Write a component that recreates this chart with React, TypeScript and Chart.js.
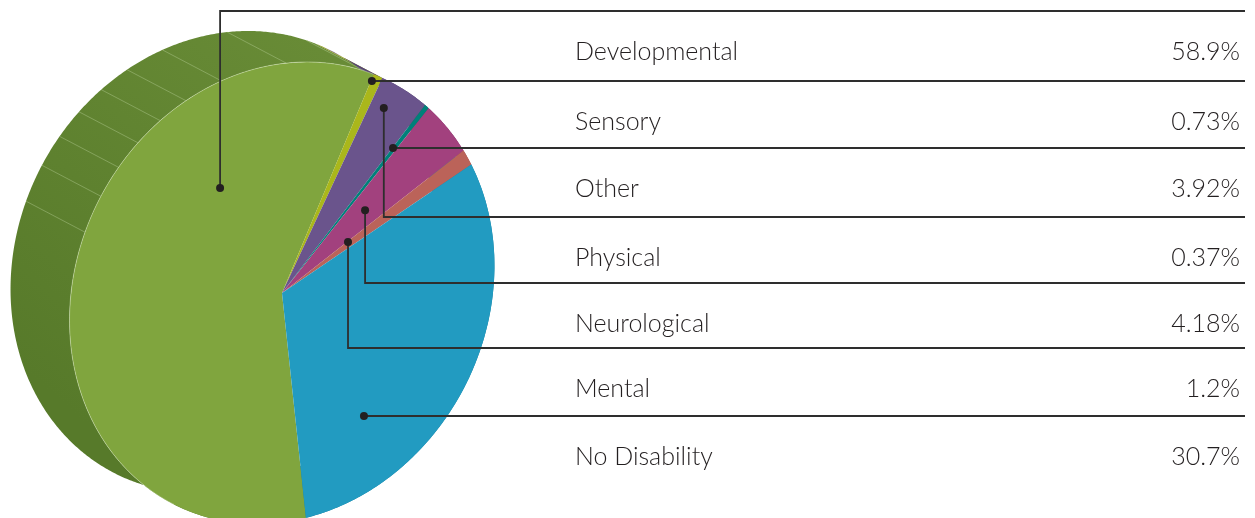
import React, { useEffect, useRef } from "react";
import { Chart, registerables } from "chart.js";

Chart.register(...registerables);

// ---- data ----
const categories = [
  "Developmental",
  "Sensory",
  "Other",
  "Physical",
  "Neurological",
  "Mental",
  "No Disability",
];
const shares = [58.9, 0.73, 3.92, 0.37, 4.18, 1.2, 30.7];
const valueLabels = ["58.9%", "0.73%", "3.92%", "0.37%", "4.18%", "1.2%", "30.7%"];

// ---- styles ----
const faceColors = ["#80a53e", "#aab71b", "#6a548c", "#00807a", "#a2417e", "#bb6359", "#229bc1"];
const sideColors = ["#5f842f", "#8e9a16", "#574574", "#006a65", "#86356a", "#9c524a", "#1c81a1"];

// leader anchors: position along the slice angle, fraction of the radius, legend row it joins
const leaderAngleFrac = [0.735, 0.1, 0.31, 0.17, 0.5, 0.1, 0.755];
const leaderRadiusFrac = [0.572, 0.971, 0.89, 0.773, 0.502, 0.362, 0.698];
const leaderRow = [0, 1, 3, 2, 4, 5, 6];

// legend layout
const rowLineY = [11, 81, 148, 217, 283, 348, 416];
const LABEL_X = 575;
const VALUE_RIGHT = 1240;
const LINE_END = 1245;
const TEXT_DROP = 49;

// 3D tilt of the disc
const TILT_DIR = [0.889, 0.459];
const TILT_K = 0.865;
const DEPTH = [-59, -31];
const stripeAngles = [-71.5, -62, -53.8, -46.2, -38.5, -30.4, -20.1, -2.4, 19.4];

const M = (() => {
  const [vx, vy] = TILT_DIR;
  const s = TILT_K - 1;
  return [1 + s * vx * vx, s * vx * vy, s * vx * vy, 1 + s * vy * vy];
})();

function applyTilt(ctx: CanvasRenderingContext2D, cx: number, cy: number) {
  ctx.translate(cx, cy);
  ctx.transform(M[0], M[1], M[2], M[3], 0, 0);
  ctx.translate(-cx, -cy);
}

function project(cx: number, cy: number, r: number, a: number): [number, number] {
  const dx = r * Math.cos(a);
  const dy = r * Math.sin(a);
  return [cx + M[0] * dx + M[2] * dy, cy + M[1] * dx + M[3] * dy];
}

function arcGeom(arc: any) {
  return arc.getProps(["x", "y", "outerRadius", "startAngle", "endAngle"], true);
}

const pie3dPlugin = {
  id: "pie3d",
  beforeDatasetsDraw(chart: any) {
    const ctx: CanvasRenderingContext2D = chart.ctx;
    const meta = chart.getDatasetMeta(0);
    if (!meta.data.length) return;
    const g0 = arcGeom(meta.data[0]);
    const cx = g0.x, cy = g0.y, R = g0.outerRadius;

    // side walls
    meta.data.forEach((arc: any, i: number) => {
      const g = arcGeom(arc);
      const span = g.endAngle - g.startAngle;
      const n = Math.max(2, Math.ceil(span / (Math.PI / 360)));
      ctx.beginPath();
      for (let k = 0; k <= n; k++) {
        const p = project(cx, cy, R, g.startAngle + (span * k) / n);
        if (k === 0) ctx.moveTo(p[0], p[1]);
        else ctx.lineTo(p[0], p[1]);
      }
      for (let k = n; k >= 0; k--) {
        const p = project(cx, cy, R, g.startAngle + (span * k) / n);
        ctx.lineTo(p[0] + DEPTH[0], p[1] + DEPTH[1]);
      }
      ctx.closePath();
      if (i === 0) {
        const grad = ctx.createLinearGradient(cx + R * 0.2, cy - R, cx - R, cy + R * 0.4);
        grad.addColorStop(0, "#688b36");
        grad.addColorStop(1, "#577a2a");
        ctx.fillStyle = grad;
      } else {
        ctx.fillStyle = sideColors[i];
      }
      ctx.fill();
    });

    // faint facet stripes on the side
    ctx.save();
    ctx.strokeStyle = "rgba(200,222,170,0.45)";
    ctx.lineWidth = 0.8;
    stripeAngles.forEach((deg) => {
      const a = ((deg - 90) * Math.PI) / 180;
      const p = project(cx, cy, R, a);
      ctx.beginPath();
      ctx.moveTo(p[0], p[1]);
      ctx.lineTo(p[0] + DEPTH[0], p[1] + DEPTH[1]);
      ctx.stroke();
    });
    ctx.restore();

    ctx.save();
    applyTilt(ctx, cx, cy);
  },
  afterDatasetsDraw(chart: any) {
    const ctx: CanvasRenderingContext2D = chart.ctx;
    ctx.restore();
    const meta = chart.getDatasetMeta(0);
    if (!meta.data.length) return;
    const g0 = arcGeom(meta.data[0]);
    const cx = g0.x, cy = g0.y, R = g0.outerRadius;

    // light edge where the face meets the side wall
    ctx.save();
    ctx.strokeStyle = "rgba(215,232,190,0.55)";
    ctx.lineWidth = 0.8;
    ctx.beginPath();
    const a0 = ((207 - 90) * Math.PI) / 180;
    const a1 = g0.endAngle;
    const n = 200;
    for (let k = 0; k <= n; k++) {
      const p = project(cx, cy, R, a0 + ((a1 - a0) * k) / n);
      if (k === 0) ctx.moveTo(p[0], p[1]);
      else ctx.lineTo(p[0], p[1]);
    }
    ctx.stroke();
    ctx.restore();

    // legend rows, leader lines and dots
    ctx.save();
    ctx.strokeStyle = "#2e2e2e";
    ctx.lineWidth = 1.8;
    meta.data.forEach((arc: any, i: number) => {
      const g = arcGeom(arc);
      const a = g.startAngle + (g.endAngle - g.startAngle) * leaderAngleFrac[i];
      const [px, py] = project(cx, cy, R * leaderRadiusFrac[i], a);
      const ly = rowLineY[leaderRow[i]];
      ctx.beginPath();
      ctx.moveTo(px, py);
      ctx.lineTo(px, ly);
      ctx.lineTo(LINE_END, ly);
      ctx.stroke();
    });
    ctx.fillStyle = "#231f20";
    meta.data.forEach((arc: any, i: number) => {
      const g = arcGeom(arc);
      const a = g.startAngle + (g.endAngle - g.startAngle) * leaderAngleFrac[i];
      const [px, py] = project(cx, cy, R * leaderRadiusFrac[i], a);
      ctx.beginPath();
      ctx.arc(px, py, 4, 0, Math.PI * 2);
      ctx.fill();
    });

    ctx.fillStyle = "#231f20";
    ctx.font = '300 25px "Lato", "Noto Sans", sans-serif';
    ctx.textBaseline = "alphabetic";
    categories.forEach((c, i) => {
      const y = rowLineY[i] + TEXT_DROP;
      ctx.textAlign = "left";
      ctx.fillText(c, LABEL_X, y);
      ctx.textAlign = "right";
      ctx.fillText(valueLabels[i], VALUE_RIGHT, y);
    });
    ctx.restore();
  },
};

const W = 1255;
const H = 518;
const CANVAS_H = 560;
const CX = 282;
const CY = 293;
const RADIUS = 237.4;

export default function App() {
  const ref = useRef<HTMLCanvasElement | null>(null);
  useEffect(() => {
    if (!ref.current) return;
    const chart = new Chart(ref.current, {
      type: "pie",
      data: {
        labels: categories,
        datasets: [
          {
            data: shares,
            backgroundColor: faceColors,
            borderWidth: 0,
            hoverOffset: 0,
            offset: 0,
            clip: false,
          } as any,
        ],
      },
      options: {
        responsive: false,
        animation: false,
        events: [],
        rotation: 170,
        layout: {
          padding: {
            left: CX - RADIUS,
            right: W - CX - RADIUS,
            top: CY - RADIUS,
            bottom: CANVAS_H - CY - RADIUS,
          },
        },
        plugins: {
          legend: { display: false },
          tooltip: { enabled: false },
        },
      },
      plugins: [pie3dPlugin],
    });
    return () => chart.destroy();
  }, []);

  return (
    <div
      style={{
        position: "fixed",
        left: 0,
        top: 0,
        width: W,
        height: H,
        overflow: "hidden",
        background: "#ffffff",
      }}
    >
      <canvas ref={ref} width={W} height={CANVAS_H} style={{ width: W, height: CANVAS_H, display: "block" }} />
    </div>
  );
}
